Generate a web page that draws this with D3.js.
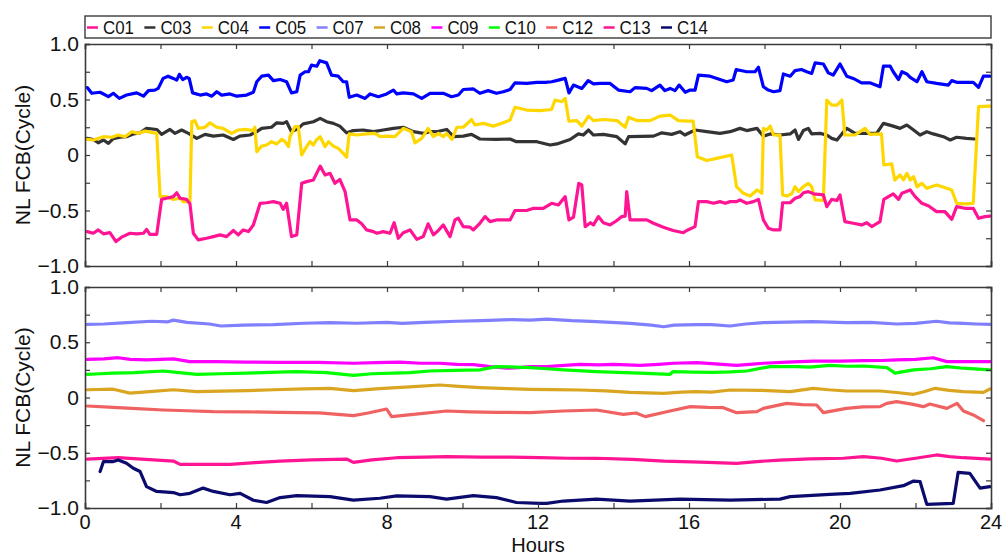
<!DOCTYPE html>
<html>
<head>
<meta charset="utf-8">
<script src="https://cdn.jsdelivr.net/npm/d3@7"></script>
<style>
  html, body { margin: 0; padding: 0; background: #fff; }
  svg { display: block; font-family: "Liberation Sans", Arial, Helvetica, sans-serif; }
</style>
</head>
<body>
<svg id="chart" width="1003" height="556"></svg>
<script>
// Hour ticks and y tick labels
const hourTicks = [0, 4, 8, 12, 16, 20, 24];
const minorHourTicks = [2, 6, 10, 14, 18, 22];
const yTickValues = [1, 0.5, 0, -0.5, -1];
const yTickLabels = ["1.0", "0.5", "0", "\u22120.5", "\u22121.0"];
const yMinorTicks = [0.75, 0.25, -0.25, -0.75];

// Satellite names (legend order) and colours
const satellites = ["C01", "C03", "C04", "C05", "C07", "C08", "C09", "C10", "C12", "C13", "C14"];
const satColors = ["#ff1493", "#333333", "#ffd700", "#0000ff", "#8080ff", "#daa520",
                   "#ff00ff", "#00ff00", "#f06262", "#ff1493", "#0b0b6e"];
const topGroup = ["C01", "C03", "C04", "C05"];
const bottomGroup = ["C07", "C08", "C09", "C10", "C12", "C13", "C14"];

// Narrow-lane FCB series, [hour, cycle] pairs
const C05 = [[0.06,0.607],[0.18,0.556],[0.4,0.565],[0.62,0.526],[0.75,0.556],[0.91,0.51],[1.1,0.54],[1.37,0.56],[1.55,0.53],[1.68,0.58],[1.85,0.585],[1.94,0.6],[2.07,0.69],[2.2,0.71],[2.34,0.69],[2.43,0.675],[2.5,0.727],[2.59,0.68],[2.69,0.7],[2.76,0.69],[2.85,0.56],[3.05,0.54],[3.22,0.55],[3.36,0.53],[3.49,0.57],[3.62,0.54],[3.84,0.55],[4.02,0.53],[4.28,0.54],[4.46,0.565],[4.55,0.66],[4.68,0.71],[4.86,0.72],[4.99,0.67],[5.17,0.68],[5.34,0.66],[5.47,0.56],[5.61,0.57],[5.7,0.72],[5.83,0.75],[5.92,0.75],[6.0,0.81],[6.14,0.8],[6.22,0.85],[6.4,0.83],[6.53,0.72],[6.71,0.71],[6.84,0.66],[6.93,0.66],[7.0,0.52],[7.2,0.54],[7.42,0.51],[7.55,0.55],[7.77,0.525],[7.99,0.55],[8.17,0.585],[8.26,0.55],[8.43,0.56],[8.7,0.55],[8.92,0.51],[9.14,0.556],[9.49,0.556],[9.71,0.525],[9.89,0.54],[10.02,0.59],[10.29,0.595],[10.46,0.556],[10.68,0.58],[10.9,0.556],[11.08,0.57],[11.26,0.59],[11.39,0.65],[11.7,0.645],[11.97,0.655],[12.19,0.655],[12.36,0.66],[12.54,0.675],[12.72,0.69],[12.82,0.56],[12.94,0.63],[13.16,0.6],[13.33,0.67],[13.47,0.64],[13.64,0.645],[13.91,0.645],[14.13,0.585],[14.44,0.57],[14.57,0.607],[14.88,0.6],[15.01,0.58],[15.23,0.63],[15.36,0.58],[15.5,0.6],[15.63,0.58],[15.74,0.63],[15.9,0.565],[16.03,0.585],[16.16,0.585],[16.25,0.72],[16.56,0.71],[16.82,0.68],[17.0,0.66],[17.17,0.675],[17.25,0.77],[17.53,0.75],[17.75,0.75],[17.84,0.79],[17.97,0.615],[18.1,0.585],[18.24,0.57],[18.41,0.58],[18.5,0.73],[18.68,0.71],[18.81,0.76],[18.98,0.77],[19.12,0.75],[19.25,0.735],[19.34,0.83],[19.56,0.82],[19.69,0.74],[19.82,0.72],[20.0,0.82],[20.18,0.71],[20.35,0.69],[20.57,0.65],[20.79,0.65],[21.06,0.615],[21.15,0.8],[21.33,0.8],[21.41,0.75],[21.55,0.68],[21.64,0.75],[21.77,0.73],[21.86,0.7],[22.04,0.66],[22.17,0.75],[22.3,0.66],[22.56,0.645],[22.87,0.63],[22.96,0.67],[23.09,0.655],[23.53,0.655],[23.67,0.61],[23.8,0.71],[23.97,0.71]];

const C03 = [[0.06,0.15],[0.22,0.14],[0.35,0.11],[0.49,0.135],[0.62,0.105],[0.75,0.147],[0.93,0.16],[1.1,0.165],[1.28,0.19],[1.46,0.2],[1.63,0.24],[1.9,0.23],[2.03,0.186],[2.25,0.23],[2.38,0.195],[2.56,0.225],[2.74,0.195],[2.96,0.15],[3.18,0.186],[3.4,0.17],[3.66,0.18],[3.93,0.14],[4.1,0.17],[4.37,0.18],[4.55,0.21],[4.68,0.24],[4.94,0.25],[5.08,0.29],[5.25,0.285],[5.34,0.3],[5.47,0.21],[5.65,0.24],[5.78,0.28],[6.05,0.3],[6.23,0.33],[6.4,0.3],[6.58,0.285],[6.75,0.26],[6.93,0.2],[7.11,0.22],[7.37,0.225],[7.64,0.21],[7.9,0.225],[8.17,0.24],[8.43,0.25],[8.7,0.21],[8.96,0.195],[9.14,0.21],[9.31,0.21],[9.58,0.23],[9.76,0.165],[10.02,0.17],[10.24,0.186],[10.46,0.144],[10.9,0.14],[11.26,0.144],[11.43,0.12],[11.97,0.12],[12.32,0.09],[12.5,0.1],[12.85,0.14],[13.07,0.19],[13.2,0.18],[13.34,0.225],[13.47,0.18],[13.73,0.186],[14.09,0.165],[14.31,0.1],[14.4,0.165],[15.06,0.17],[15.28,0.2],[15.54,0.186],[15.76,0.21],[15.89,0.18],[16.16,0.225],[16.47,0.21],[16.82,0.195],[17.09,0.21],[17.35,0.24],[17.53,0.22],[17.8,0.24],[17.97,0.17],[18.15,0.19],[18.41,0.18],[18.68,0.19],[18.81,0.225],[18.9,0.14],[19.03,0.22],[19.16,0.24],[19.25,0.19],[19.47,0.195],[19.65,0.18],[19.78,0.15],[19.92,0.135],[20.05,0.19],[20.18,0.24],[20.4,0.195],[20.71,0.195],[20.97,0.195],[21.15,0.285],[21.41,0.26],[21.59,0.24],[21.77,0.27],[21.95,0.225],[22.12,0.18],[22.3,0.21],[22.47,0.19],[22.74,0.165],[22.92,0.135],[23.09,0.16],[23.35,0.15],[23.57,0.144]];

const C04 = [[0.06,0.14],[0.22,0.135],[0.49,0.165],[0.71,0.16],[0.88,0.18],[1.06,0.165],[1.24,0.21],[1.41,0.195],[1.59,0.215],[1.9,0.195],[1.99,-0.375],[2.16,-0.375],[2.34,-0.4],[2.52,-0.39],[2.6,-0.42],[2.78,-0.42],[2.83,0.3],[2.91,0.31],[3.0,0.24],[3.18,0.25],[3.31,0.29],[3.49,0.25],[3.66,0.24],[3.88,0.195],[4.06,0.225],[4.28,0.23],[4.46,0.22],[4.5,0.25],[4.55,0.03],[4.68,0.08],[4.81,0.09],[4.94,0.12],[5.08,0.1],[5.21,0.14],[5.3,0.12],[5.39,0.075],[5.43,0.165],[5.56,0.255],[5.65,0.255],[5.74,0.0],[5.87,0.075],[5.96,0.12],[6.05,0.09],[6.14,0.14],[6.23,0.165],[6.36,0.075],[6.45,0.12],[6.58,0.08],[6.71,0.06],[6.84,0.015],[6.93,-0.02],[7.0,0.19],[7.2,0.18],[7.46,0.19],[7.68,0.195],[7.82,0.165],[7.99,0.17],[8.21,0.165],[8.43,0.24],[8.65,0.21],[8.74,0.11],[8.92,0.15],[9.09,0.24],[9.23,0.165],[9.36,0.195],[9.49,0.165],[9.58,0.195],[9.72,0.14],[9.85,0.25],[10.02,0.25],[10.24,0.32],[10.33,0.27],[10.55,0.285],[10.82,0.26],[11.08,0.29],[11.26,0.315],[11.39,0.43],[11.7,0.405],[12.05,0.4],[12.36,0.41],[12.45,0.495],[12.63,0.48],[12.72,0.51],[12.82,0.305],[13.03,0.31],[13.16,0.26],[13.34,0.35],[13.47,0.31],[13.73,0.32],[14.09,0.31],[14.31,0.25],[14.4,0.34],[14.62,0.31],[14.97,0.31],[15.23,0.35],[15.5,0.36],[15.72,0.31],[15.98,0.305],[16.11,0.305],[16.22,-0.015],[16.47,-0.05],[16.73,-0.03],[17.13,0.0],[17.26,-0.285],[17.44,-0.345],[17.62,-0.37],[17.8,-0.315],[17.93,-0.345],[17.97,0.24],[18.06,0.225],[18.15,0.26],[18.24,0.18],[18.41,0.18],[18.48,-0.36],[18.59,-0.37],[18.72,-0.35],[18.81,-0.285],[18.9,-0.33],[19.03,-0.285],[19.16,-0.255],[19.25,-0.285],[19.34,-0.405],[19.56,-0.41],[19.65,0.495],[19.78,0.45],[19.92,0.45],[20.05,0.495],[20.13,0.18],[20.4,0.18],[20.66,0.24],[20.79,0.186],[21.1,0.19],[21.16,-0.09],[21.37,-0.08],[21.45,-0.225],[21.59,-0.18],[21.68,-0.225],[21.77,-0.165],[21.86,-0.225],[21.95,-0.195],[22.04,-0.285],[22.17,-0.255],[22.3,-0.3],[22.56,-0.27],[22.83,-0.3],[22.96,-0.315],[23.09,-0.435],[23.31,-0.44],[23.53,-0.435],[23.67,0.435],[23.97,0.44]];

const C01 = [[0.06,-0.69],[0.22,-0.705],[0.35,-0.675],[0.49,-0.71],[0.66,-0.7],[0.82,-0.78],[0.97,-0.74],[1.19,-0.705],[1.37,-0.71],[1.55,-0.705],[1.63,-0.67],[1.72,-0.715],[1.9,-0.715],[2.03,-0.4],[2.16,-0.39],[2.34,-0.375],[2.43,-0.34],[2.52,-0.39],[2.69,-0.4],[2.78,-0.44],[2.87,-0.705],[3.0,-0.765],[3.22,-0.75],[3.4,-0.735],[3.58,-0.72],[3.75,-0.735],[3.93,-0.68],[4.06,-0.72],[4.19,-0.675],[4.33,-0.69],[4.46,-0.63],[4.64,-0.435],[4.81,-0.43],[4.99,-0.42],[5.17,-0.435],[5.25,-0.49],[5.34,-0.435],[5.47,-0.735],[5.61,-0.72],[5.74,-0.255],[5.87,-0.24],[6.05,-0.225],[6.23,-0.1],[6.36,-0.18],[6.49,-0.165],[6.62,-0.255],[6.75,-0.22],[6.89,-0.33],[7.02,-0.585],[7.2,-0.585],[7.33,-0.62],[7.46,-0.675],[7.64,-0.69],[7.73,-0.705],[7.9,-0.69],[8.08,-0.705],[8.19,-0.61],[8.3,-0.75],[8.43,-0.7],[8.61,-0.675],[8.79,-0.76],[8.96,-0.735],[9.09,-0.62],[9.23,-0.72],[9.36,-0.68],[9.49,-0.63],[9.67,-0.735],[9.8,-0.585],[9.89,-0.57],[10.02,-0.645],[10.2,-0.65],[10.29,-0.675],[10.46,-0.615],[10.6,-0.555],[10.73,-0.6],[10.9,-0.585],[11.26,-0.585],[11.39,-0.5],[11.7,-0.5],[11.88,-0.48],[12.14,-0.48],[12.36,-0.435],[12.54,-0.45],[12.72,-0.375],[12.82,-0.585],[12.94,-0.56],[13.08,-0.255],[13.16,-0.27],[13.25,-0.645],[13.39,-0.61],[13.47,-0.63],[13.6,-0.555],[13.73,-0.61],[13.91,-0.63],[14.09,-0.59],[14.22,-0.555],[14.31,-0.55],[14.35,-0.33],[14.44,-0.585],[14.62,-0.585],[14.88,-0.585],[15.06,-0.615],[15.32,-0.65],[15.58,-0.68],[15.85,-0.7],[15.94,-0.68],[16.16,-0.645],[16.25,-0.42],[16.47,-0.42],[16.65,-0.435],[16.82,-0.42],[16.96,-0.435],[17.09,-0.42],[17.26,-0.42],[17.35,-0.405],[17.53,-0.435],[17.71,-0.42],[17.84,-0.4],[17.97,-0.585],[18.1,-0.66],[18.24,-0.675],[18.41,-0.675],[18.48,-0.43],[18.68,-0.43],[18.81,-0.39],[18.94,-0.375],[19.03,-0.34],[19.16,-0.33],[19.3,-0.35],[19.56,-0.36],[19.65,-0.465],[19.78,-0.4],[19.92,-0.41],[20.0,-0.36],[20.13,-0.6],[20.35,-0.615],[20.57,-0.63],[20.71,-0.61],[20.84,-0.645],[21.06,-0.6],[21.16,-0.4],[21.41,-0.35],[21.55,-0.4],[21.64,-0.345],[21.86,-0.315],[21.99,-0.375],[22.17,-0.435],[22.35,-0.46],[22.56,-0.51],[22.78,-0.51],[22.96,-0.58],[23.09,-0.465],[23.31,-0.48],[23.53,-0.48],[23.67,-0.57],[23.84,-0.555],[23.97,-0.55]];

const C07 = [[0.06,0.662],[0.5,0.665],[1.0,0.675],[1.76,0.69],[2.2,0.685],[2.34,0.7],[2.7,0.68],[3.3,0.665],[3.6,0.647],[4.2,0.655],[5.0,0.66],[5.8,0.672],[6.49,0.677],[7.2,0.672],[8.0,0.68],[8.4,0.67],[9.0,0.68],[9.85,0.69],[10.5,0.695],[11.3,0.705],[11.79,0.7],[12.23,0.71],[12.9,0.695],[13.55,0.686],[14.44,0.67],[15.0,0.655],[15.33,0.64],[15.6,0.655],[16.2,0.66],[16.6,0.66],[17.09,0.647],[17.5,0.665],[17.97,0.677],[18.6,0.682],[19.29,0.686],[20.17,0.677],[20.8,0.68],[21.5,0.665],[22.0,0.67],[22.56,0.69],[22.9,0.675],[23.27,0.67],[23.6,0.665],[23.97,0.662]];

const C09 = [[0.06,0.345],[0.5,0.35],[0.88,0.36],[1.2,0.345],[1.63,0.34],[2.0,0.345],[2.34,0.35],[2.78,0.325],[3.5,0.325],[4.28,0.32],[5.2,0.318],[6.2,0.318],[7.11,0.31],[7.7,0.315],[8.34,0.32],[8.9,0.31],[9.4,0.31],[9.85,0.3],[10.3,0.298],[10.73,0.28],[11.17,0.265],[11.5,0.27],[11.79,0.28],[12.23,0.28],[12.7,0.29],[13.11,0.3],[13.6,0.295],[14.0,0.3],[14.7,0.29],[15.2,0.3],[15.58,0.31],[16.2,0.315],[16.7,0.305],[17.26,0.29],[17.6,0.3],[17.97,0.31],[18.6,0.32],[19.29,0.33],[20.0,0.33],[20.62,0.333],[21.1,0.335],[21.5,0.34],[22.0,0.345],[22.47,0.36],[22.83,0.325],[23.3,0.325],[23.97,0.325]];

const C10 = [[0.06,0.21],[0.4,0.215],[0.75,0.22],[1.3,0.225],[2.07,0.24],[2.5,0.225],[2.96,0.21],[3.6,0.215],[4.28,0.22],[4.9,0.228],[5.61,0.235],[6.4,0.225],[7.11,0.2],[7.6,0.215],[8.17,0.22],[8.6,0.225],[9.14,0.24],[9.8,0.245],[10.46,0.25],[10.9,0.28],[11.4,0.275],[11.79,0.27],[12.23,0.26],[12.67,0.25],[13.55,0.235],[14.1,0.228],[14.7,0.22],[15.5,0.21],[15.58,0.235],[16.1,0.23],[16.64,0.228],[17.1,0.232],[17.53,0.24],[18.15,0.28],[18.85,0.28],[19.2,0.275],[19.73,0.29],[20.2,0.283],[20.62,0.285],[21.24,0.27],[21.46,0.22],[21.95,0.25],[22.4,0.26],[22.83,0.28],[23.27,0.265],[23.97,0.25]];

const C08 = [[0.06,0.07],[0.75,0.075],[1.19,0.04],[1.8,0.055],[2.34,0.07],[2.96,0.053],[3.6,0.058],[4.28,0.062],[5.0,0.07],[5.8,0.078],[6.49,0.083],[7.11,0.062],[7.8,0.08],[8.7,0.098],[9.4,0.113],[9.9,0.1],[10.46,0.089],[11.2,0.08],[11.79,0.074],[12.4,0.072],[13.11,0.068],[13.8,0.06],[14.44,0.047],[15.33,0.038],[15.8,0.048],[16.2,0.053],[16.6,0.048],[17.09,0.068],[17.9,0.065],[18.68,0.053],[19.29,0.083],[19.7,0.07],[20.17,0.059],[21.06,0.059],[21.5,0.045],[21.95,0.029],[22.2,0.05],[22.52,0.083],[22.9,0.065],[23.27,0.053],[23.8,0.047],[23.97,0.077]];

const C12 = [[0.06,-0.077],[0.75,-0.09],[1.37,-0.1],[2.07,-0.113],[2.7,-0.12],[3.4,-0.128],[4.3,-0.13],[5.17,-0.134],[6.2,-0.14],[7.11,-0.164],[7.5,-0.14],[7.99,-0.104],[8.12,-0.173],[8.7,-0.152],[9.58,-0.122],[10.2,-0.13],[10.9,-0.134],[11.79,-0.137],[12.67,-0.122],[13.55,-0.113],[14.26,-0.152],[14.6,-0.14],[14.84,-0.173],[15.5,-0.122],[16.03,-0.083],[16.5,-0.09],[16.91,-0.092],[17.26,-0.137],[17.8,-0.128],[17.97,-0.098],[18.59,-0.053],[19.0,-0.065],[19.38,-0.068],[19.56,-0.137],[20.17,-0.098],[20.6,-0.085],[21.06,-0.083],[21.24,-0.053],[21.5,-0.038],[21.9,-0.06],[22.21,-0.083],[22.38,-0.059],[22.83,-0.098],[23.1,-0.053],[23.27,-0.122],[23.53,-0.158],[23.8,-0.21]];

const C13 = [[0.06,-0.557],[0.88,-0.545],[1.6,-0.56],[2.34,-0.575],[2.52,-0.605],[3.2,-0.605],[3.84,-0.605],[4.5,-0.59],[5.17,-0.575],[6.0,-0.565],[6.93,-0.557],[7.11,-0.587],[7.6,-0.565],[8.26,-0.545],[9.0,-0.54],[9.58,-0.535],[10.5,-0.54],[11.3,-0.54],[12.05,-0.545],[12.8,-0.55],[13.55,-0.55],[14.5,-0.56],[15.33,-0.575],[16.3,-0.585],[17.26,-0.596],[17.8,-0.58],[18.41,-0.566],[19.2,-0.555],[20.09,-0.55],[20.62,-0.535],[21.1,-0.55],[21.5,-0.575],[22.0,-0.55],[22.56,-0.52],[22.9,-0.535],[23.27,-0.545],[23.97,-0.557]];

const C14 = [[0.4,-0.67],[0.49,-0.58],[0.75,-0.58],[0.88,-0.565],[1.1,-0.595],[1.28,-0.64],[1.46,-0.67],[1.63,-0.807],[1.9,-0.85],[2.34,-0.86],[2.52,-0.88],[2.78,-0.867],[3.13,-0.82],[3.4,-0.85],[3.84,-0.88],[4.11,-0.867],[4.46,-0.93],[4.81,-0.95],[5.17,-0.906],[5.61,-0.888],[6.49,-0.897],[7.11,-0.928],[7.81,-0.912],[8.26,-0.89],[9.14,-0.897],[9.58,-0.92],[10.29,-0.888],[10.9,-0.906],[11.43,-0.95],[12.05,-0.958],[12.23,-0.958],[12.67,-0.937],[13.55,-0.92],[14.44,-0.937],[15.76,-0.92],[17.09,-0.928],[18.41,-0.92],[18.68,-0.897],[19.73,-0.876],[20.27,-0.867],[21.06,-0.837],[21.68,-0.798],[21.95,-0.756],[22.12,-0.76],[22.3,-0.967],[23.0,-0.958],[23.13,-0.677],[23.44,-0.686],[23.71,-0.82],[23.97,-0.807]];

const seriesByName = { C01, C03, C04, C05, C07, C08, C09, C10, C12, C13, C14 };
const colorOf = d3.scaleOrdinal().domain(satellites).range(satColors);

const svg = d3.select("#chart");
const frameColor = "#3a3a3a";
const textColor = "#111";

const x = d3.scaleLinear().domain([0, 24]).range([85, 991]);

const panels = [
  { names: topGroup, y: d3.scaleLinear().domain([-1, 1]).range([266, 44]), xLabels: false, drawOrder: ["C05", "C03", "C04", "C01"] },
  { names: bottomGroup, y: d3.scaleLinear().domain([-1, 1]).range([508, 287]), xLabels: true, drawOrder: ["C07", "C09", "C10", "C08", "C12", "C13", "C14"] }
];

panels.forEach((p, i) => {
  const g = svg.append("g");
  const [y0, y1] = p.y.range();

  g.append("clipPath").attr("id", "clip" + i)
    .append("rect").attr("x", x(0)).attr("y", y1).attr("width", x(24) - x(0)).attr("height", y0 - y1);

  const line = d3.line().x(d => x(d[0])).y(d => p.y(d[1]));
  const lines = g.append("g").attr("clip-path", `url(#clip${i})`);
  p.drawOrder.forEach(name => {
    lines.append("path")
      .datum(seriesByName[name])
      .attr("fill", "none")
      .attr("stroke", colorOf(name))
      .attr("stroke-width", 3.2)
      .attr("stroke-linejoin", "round")
      .attr("stroke-linecap", "round")
      .attr("d", line);
  });

  // Box axes with inward ticks on every side
  const allX = hourTicks.concat(minorHourTicks);
  const allY = yTickValues.concat(yMinorTicks);
  const tl = 5;
  const noLabel = () => "";

  g.append("g").attr("transform", `translate(0,${y0})`)
    .call(d3.axisBottom(x).tickValues(allX).tickSize(-tl).tickFormat(noLabel));
  g.append("g").attr("transform", `translate(0,${y1})`)
    .call(d3.axisTop(x).tickValues(allX).tickSize(-tl).tickFormat(noLabel));
  g.append("g").attr("transform", `translate(${x(0)},0)`)
    .call(d3.axisLeft(p.y).tickValues(allY).tickSize(-tl).tickFormat(noLabel));
  g.append("g").attr("transform", `translate(${x(24)},0)`)
    .call(d3.axisRight(p.y).tickValues(allY).tickSize(-tl).tickFormat(noLabel));
  g.selectAll(".domain").attr("stroke", frameColor).attr("stroke-width", 1.6);
  g.selectAll(".tick line").attr("stroke", frameColor).attr("stroke-width", 1.2);

  // y tick labels
  g.selectAll("text.ylab").data(yTickValues).join("text")
    .attr("class", "ylab")
    .attr("x", x(0) - 6)
    .attr("y", d => p.y(d) + 7)
    .attr("text-anchor", "end")
    .attr("font-size", 21)
    .attr("fill", textColor)
    .text((d, k) => yTickLabels[k]);

  // y axis title
  g.append("text")
    .attr("transform", `translate(30,${(y0 + y1) / 2}) rotate(-90)`)
    .attr("text-anchor", "middle")
    .attr("font-size", 21)
    .attr("fill", textColor)
    .text("NL FCB(Cycle)");

  if (p.xLabels) {
    g.selectAll("text.xlab").data(hourTicks).join("text")
      .attr("class", "xlab")
      .attr("x", d => x(d))
      .attr("y", y0 + 21)
      .attr("text-anchor", "middle")
      .attr("font-size", 20)
      .attr("fill", textColor)
      .text(d => d);
    g.append("text")
      .attr("x", (x(0) + x(24)) / 2)
      .attr("y", 552)
      .attr("text-anchor", "middle")
      .attr("font-size", 20)
      .attr("fill", textColor)
      .text("Hours");
  }
});

// Legend box across the top
const legend = svg.append("g");
legend.append("rect")
  .attr("x", x(0)).attr("y", 16)
  .attr("width", x(24) - x(0)).attr("height", 22)
  .attr("fill", "#fff").attr("stroke", frameColor).attr("stroke-width", 1.4);

const legendX = d3.scalePoint().domain(satellites).range([87, 87 + 57.4 * (satellites.length - 1)]);
const items = legend.selectAll("g.item").data(satellites).join("g")
  .attr("class", "item")
  .attr("transform", d => `translate(${legendX(d)},27.5)`);
items.append("line")
  .attr("x1", 0).attr("x2", 11).attr("y1", 0).attr("y2", 0)
  .attr("stroke", d => colorOf(d)).attr("stroke-width", 2.5);
items.append("text")
  .attr("x", 16).attr("y", 6.5)
  .attr("font-size", 18)
  .attr("textLength", 31)
  .attr("lengthAdjust", "spacingAndGlyphs")
  .attr("fill", textColor)
  .text(d => d);
</script>
</body>
</html>
